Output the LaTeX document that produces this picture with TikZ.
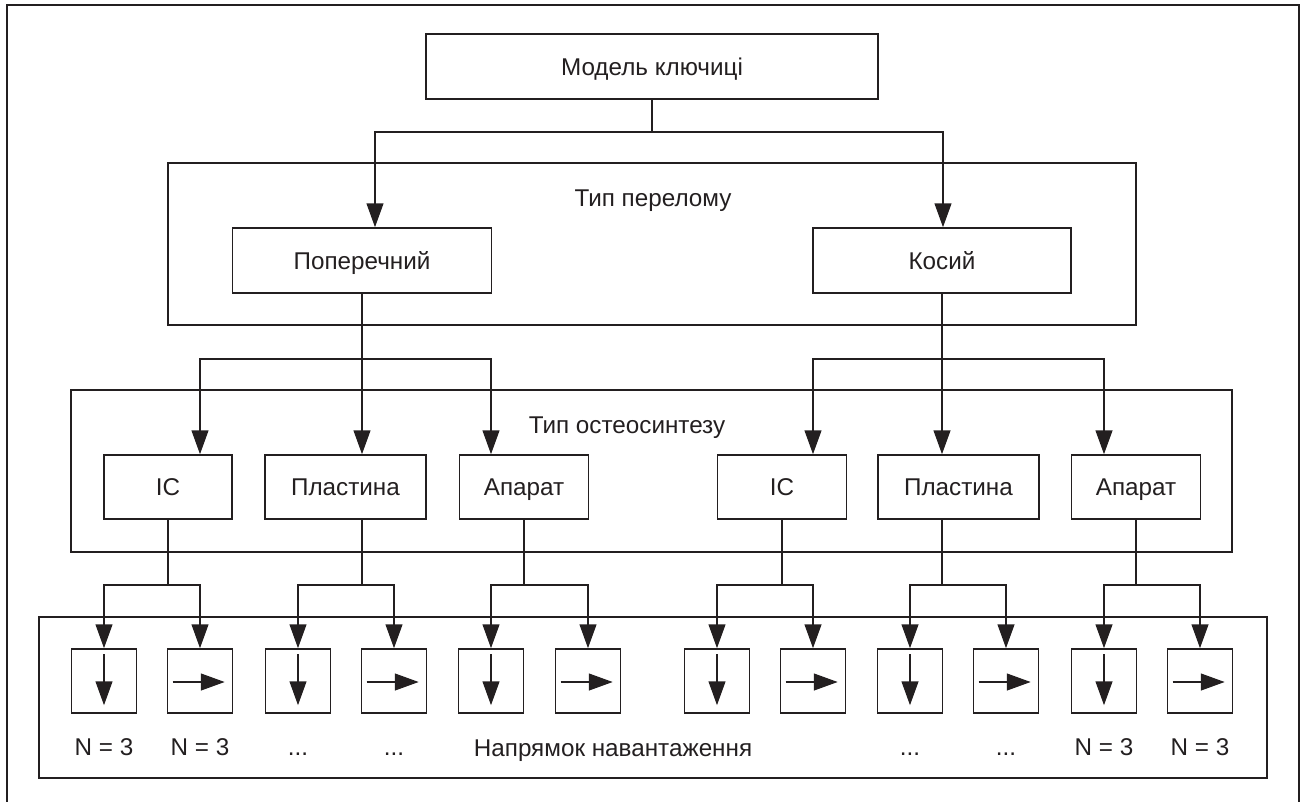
\documentclass[tikz,border=0pt]{standalone}
\usepackage{fontspec}
\setmainfont{Liberation Sans}
\usetikzlibrary{arrows.meta}

\definecolor{ink}{RGB}{35,31,32}

\begin{document}
\begin{tikzpicture}[x=0.02cm, y=-0.02cm, >={Triangle[length=13.6pt, width=9.6pt]},
  line width=0.9pt, color=ink,
  font=\fontsize{13.8pt}{16pt}\selectfont,
  box/.style={draw, rectangle, inner sep=0pt, text height=9.8pt, text depth=0pt},
  group/.style={draw, rectangle, inner sep=0pt},
  dirbox/.style={draw, rectangle, inner sep=0pt, minimum width=65*\u, minimum height=64*\u},
  lbl/.style={anchor=base, inner sep=0pt}]

% Parameters
\def\u{0.02cm}
\def\dts{...}
\def\nn{N = 3}

\useasboundingbox (0,0) rectangle (1303,802);

% Outer frame
\draw (7,806) -- (7,5) -- (1299,5) -- (1299,806);

% Group frames
\node[group, minimum width=968*\u, minimum height=162*\u] (perelom) at (652,244) {};
\node[group, minimum width=1161*\u, minimum height=162*\u] (osteo) at (651.5,471) {};
\node[group, minimum width=1228*\u, minimum height=161*\u] (napr) at (653,697.5) {};

\node[lbl] (tperelom) at (653,206.5) {Тип перелому};
\node[lbl] (tosteo) at (627,433) {Тип остеосинтезу};
\node[lbl] (tnapr) at (613,756) {Напрямок навантаження};

% Top box
\node[box, minimum width=452*\u, minimum height=65*\u] (model) at (652,66.5) {Модель ключиці};

% Fracture types
\node[box, minimum width=259*\u, minimum height=65*\u] (pop) at (362,260.5) {Поперечний};
\node[box, minimum width=258*\u, minimum height=65*\u] (kos) at (942,260.5) {Косий};

% Osteosynthesis types
\node[box, minimum width=128*\u, minimum height=64*\u] (icL) at (168,487) {IC};
\node[box, minimum width=161*\u, minimum height=64*\u] (plL) at (345.5,487) {Пластина};
\node[box, minimum width=129*\u, minimum height=64*\u] (apL) at (524,487) {Апарат};
\node[box, minimum width=129*\u, minimum height=64*\u] (icR) at (782,487) {IC};
\node[box, minimum width=161*\u, minimum height=64*\u] (plR) at (958.5,487) {Пластина};
\node[box, minimum width=129*\u, minimum height=64*\u] (apR) at (1136,487) {Апарат};

% Load direction boxes
\foreach \x [count=\i] in {104,200,298,394,491,588,717,813,910,1006,1104,1200} {
  \node[dirbox] (d\i) at (\x,681) {};
  \ifodd\i
    \draw[->] (d\i.north) ++(0,6) -- ++(0,51);
  \else
    \draw[->] (d\i.west) ++(6,1) -- ++(52,0);
  \fi
}

% Labels under the boxes
\foreach \x/\t [count=\i] in {104/\nn,200/\nn,298/\dts,394/\dts,
    910/\dts,1006/\dts,1104/\nn,1200/\nn}
  \node[lbl] (l\i) at (\x,755) {\t};

% Level 1
\path (model.south) ++(0,32) coordinate (j1);
\coordinate (j1l) at (375,131);
\coordinate (j1r) at (943,131);
\draw (model.south) -- (j1);
\draw[->] (j1) -| (j1l |- pop.north);
\draw[->] (j1) -| (j1r |- kos.north);

% Level 2
\path (pop.south) ++(0,65) coordinate (j2);
\coordinate (j2l) at (200,358);
\coordinate (j2r) at (491,358);
\draw[->] (pop.south) -- (pop.south |- plL.north);
\draw[->] (j2) -| (j2l |- icL.north);
\draw[->] (j2) -| (j2r |- apL.north);

\path (kos.south) ++(0,65) coordinate (j3);
\coordinate (j3l) at (813,358);
\coordinate (j3r) at (1104,358);
\draw[->] (kos.south) -- (kos.south |- plR.north);
\draw[->] (j3) -| (j3l |- icR.north);
\draw[->] (j3) -| (j3r |- apR.north);

% Level 3
\coordinate (o1) at (icL.south);
\coordinate (o2) at (plL.south -| pop.south);
\coordinate (o3) at (apL.south);
\coordinate (o4) at (icR.south);
\coordinate (o5) at (plR.south -| kos.south);
\coordinate (o6) at (apR.south);
\foreach \k/\a/\b in {1/1/2,2/3/4,3/5/6,4/7/8,5/9/10,6/11/12} {
  \draw (o\k) -- ++(0,65) coordinate (b\k);
  \draw[->] (b\k) -| (d\a.north);
  \draw[->] (b\k) -| (d\b.north);
}

\end{tikzpicture}
\end{document}
